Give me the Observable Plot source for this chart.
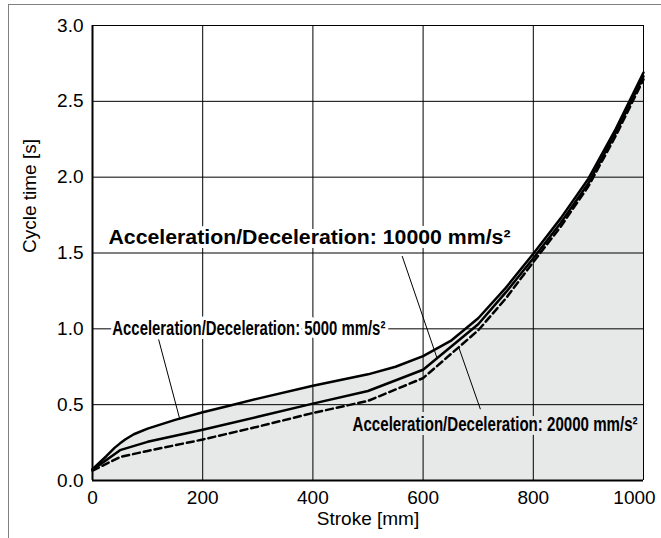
<!DOCTYPE html>
<html><head><meta charset="utf-8">
<script src="https://cdn.jsdelivr.net/npm/d3@7"></script>
<script src="https://cdn.jsdelivr.net/npm/@observablehq/plot@0.6"></script>
<style>
html,body{margin:0;padding:0;background:#fff;}
#wrap{position:relative;width:661px;height:538px;overflow:hidden;}
#chart{position:absolute;left:0;top:0;}
#border{position:absolute;left:8px;top:4px;width:700px;height:600px;border-top:1.5px solid #808080;border-left:1.5px solid #808080;pointer-events:none;}
</style></head><body>
<div id="wrap"><div id="chart"></div><div id="border"></div></div>
<script>
// Acceleration/Deceleration 5000 mm/s^2 (top solid curve)
const stroke5000 = [0, 25, 40, 50, 60, 75, 100, 150, 200, 250, 300, 400, 500, 550, 600, 650, 700, 750, 800, 850, 900, 950, 1000];
const time5000   = [0.075, 0.16, 0.215, 0.245, 0.272, 0.305, 0.342, 0.40, 0.45, 0.495, 0.54, 0.625, 0.70, 0.75, 0.82, 0.92, 1.07, 1.27, 1.495, 1.73, 1.99, 2.32, 2.69];
// Acceleration/Deceleration 10000 / 20000 mm/s^2
const strokeStd  = [0, 50, 100, 200, 300, 400, 500, 600, 700, 750, 800, 850, 900, 950, 1000];
const time10000  = [0.07, 0.20, 0.255, 0.335, 0.42, 0.507, 0.59, 0.73, 1.03, 1.24, 1.465, 1.70, 1.96, 2.295, 2.665];
const time20000  = [0.065, 0.155, 0.195, 0.27, 0.355, 0.445, 0.525, 0.675, 0.99, 1.20, 1.44, 1.675, 1.94, 2.275, 2.645];

const xTicks = [0, 200, 400, 600, 800, 1000];
const yTicks = [0, 0.5, 1.0, 1.5, 2.0, 2.5, 3.0];
const xTitle = "Stroke [mm]";
const yTitle = "Cycle time [s]";

// annotations
const noteLabels = ["Acceleration/Deceleration: 10000 mm/s²", "Acceleration/Deceleration: 5000 mm/s²", "Acceleration/Deceleration: 20000 mm/s²"];
const noteX = [29, 36, 472];
const noteY = [1.6, 1.0, 0.37];
const leaderX1 = [562, 120, 704];
const leaderY1 = [1.48, 0.93, 0.47];
const leaderX2 = [625, 158, 665];
const leaderY2 = [0.81, 0.41, 0.875];

const d5000 = stroke5000.map((s, i) => ({stroke: s, time: time5000[i]}));
const d10000 = strokeStd.map((s, i) => ({stroke: s, time: time10000[i]}));
const d20000 = strokeStd.map((s, i) => ({stroke: s, time: time20000[i]}));
const notes = noteLabels.map((t, i) => ({text: t, x: noteX[i], y: noteY[i], x1: leaderX1[i], y1: leaderY1[i], x2: leaderX2[i], y2: leaderY2[i]}));

const font = "'Liberation Sans', Arial, Helvetica, sans-serif";
const narrow = "'Liberation Sans Narrow', 'Arial Narrow', 'Liberation Sans', sans-serif";

const plot = Plot.plot({
  width: 661, height: 538,
  marginLeft: 92, marginRight: 18, marginTop: 25, marginBottom: 58,
  style: {fontFamily: font, fontSize: "19px", color: "#000", background: "transparent", overflow: "visible"},
  x: {domain: [0, 1000]},
  y: {domain: [0, 3]},
  marks: [
    Plot.areaY(d5000, {x: "stroke", y: "time", fill: "#e7e8e8"}),
    Plot.gridX(xTicks, {stroke: "#000", strokeOpacity: 1, strokeWidth: 1}),
    Plot.gridY(yTicks, {stroke: "#000", strokeOpacity: 1, strokeWidth: 1}),
    Plot.ruleX([0], {stroke: "#000", strokeWidth: 2}),
    Plot.ruleY([0], {stroke: "#000", strokeWidth: 2}),
    Plot.axisX(xTicks.slice(0, -1), {tickSize: 0, tickPadding: 10, label: null, tickFormat: d => String(d), fontSize: 19}),
    Plot.axisX(xTicks.slice(-1), {tickSize: 0, tickPadding: 10, label: null, tickFormat: d => String(d), fontSize: 19, dx: -9}),
    Plot.axisY(yTicks, {tickSize: 0, tickPadding: 9, label: null, tickFormat: d3.format(".1f"), fontSize: 19}),
    Plot.text([xTitle], {text: d => d, frameAnchor: "bottom", dy: 44, fontSize: 19}),
    Plot.text([yTitle], {text: d => d, frameAnchor: "left", dx: -63, rotate: -90, fontSize: 19}),
    Plot.link(notes, {x1: "x1", y1: "y1", x2: "x2", y2: "y2", stroke: "#000", strokeWidth: 1}),
    Plot.line(d20000, {x: "stroke", y: "time", stroke: "#000", strokeWidth: 2.5, strokeDasharray: "7,4"}),
    Plot.line(d10000, {x: "stroke", y: "time", stroke: "#000", strokeWidth: 2.5}),
    Plot.line(d5000, {x: "stroke", y: "time", stroke: "#000", strokeWidth: 2.5}),
    Plot.text(notes.slice(0, 1), {x: "x", y: "y", text: "text", textAnchor: "start", fontSize: 20, fontWeight: "bold", fontFamily: font, fill: "#000", stroke: "#fff", strokeWidth: 8}),
    Plot.text(notes.slice(1, 2), {x: "x", y: "y", text: "text", textAnchor: "start", fontSize: 20, fontWeight: "bold", fontFamily: narrow, fill: "#000", stroke: "#fff", strokeWidth: 8}),
    Plot.text(notes.slice(2, 3), {x: "x", y: "y", text: "text", textAnchor: "start", fontSize: 20, fontWeight: "bold", fontFamily: narrow, fill: "#000", stroke: "#e7e8e8", strokeWidth: 8})
  ]
});

// fit the annotation labels to their drawn widths
const fitLengths = {"10000": 402, "5000": 273, "20000": 285};
d3.select(plot).selectAll("text").each(function () {
  const t = this.textContent;
  if (t.startsWith("Acceleration")) {
    for (const k in fitLengths) {
      if (t.includes(": " + k + " ")) {
        this.setAttribute("textLength", fitLengths[k]);
        this.setAttribute("lengthAdjust", "spacingAndGlyphs");
      }
    }
  }
});
document.getElementById("chart").appendChild(plot);
</script>
</body></html>
